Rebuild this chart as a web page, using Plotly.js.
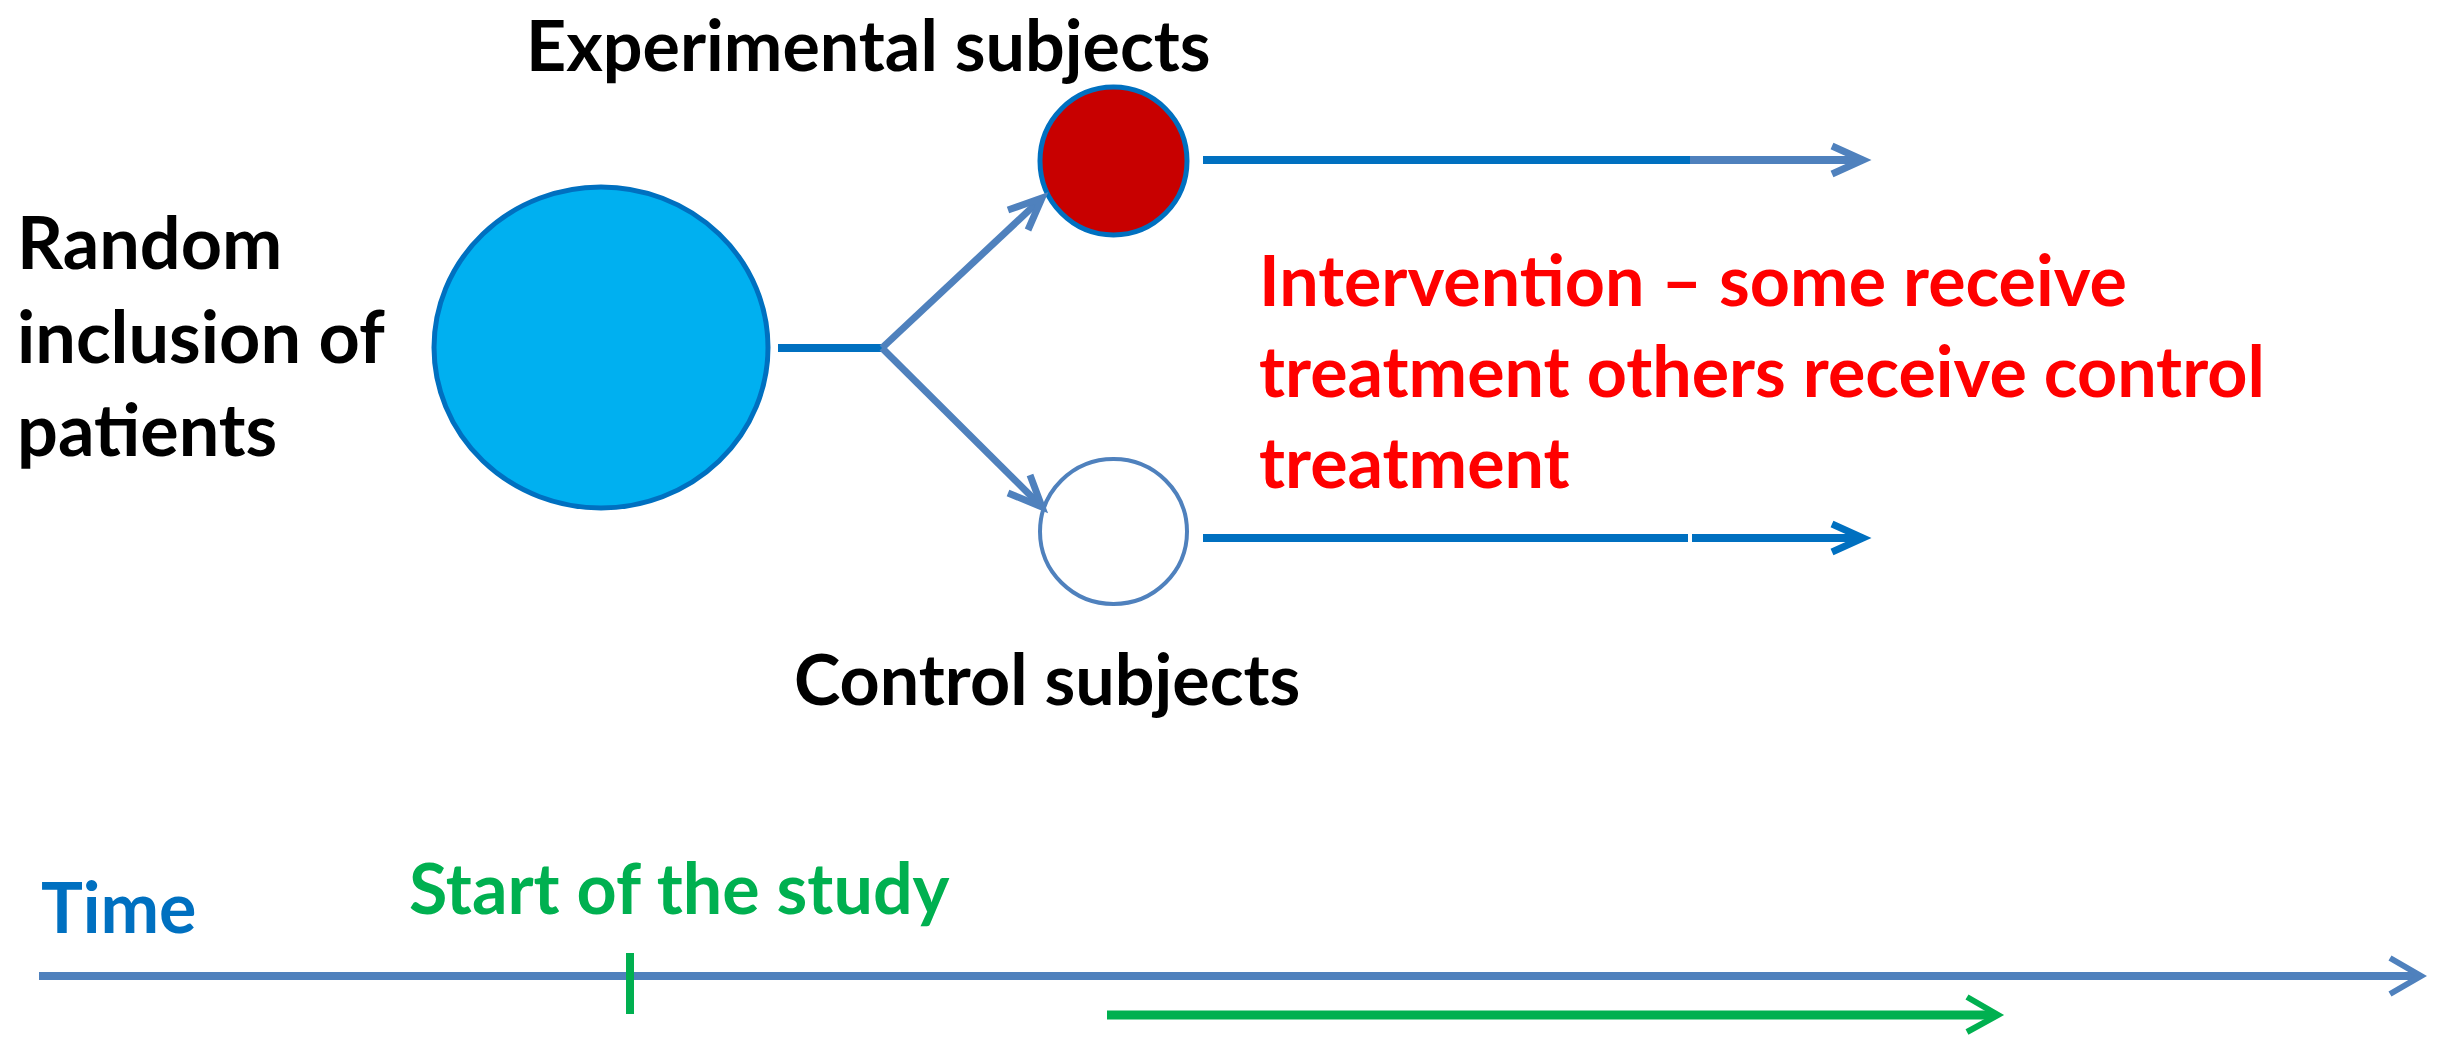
<!DOCTYPE html>
<html>
<head>
<meta charset="utf-8">
<script src="https://cdn.plot.ly/plotly-3.0.1.min.js"></script>
<style>html,body{margin:0;padding:0;background:#fff;}#chart{width:2440px;height:1038px;}</style>
</head>
<body>
<div id="chart"></div>
<script>
// ---- content ----
const groupLabels = ['Random<br>inclusion of<br>patients', 'Experimental subjects', 'Control subjects'];
const interventionLines = ['Intervention – some receive', 'treatment others receive control', 'treatment'];
const timelineLabels = ['Time', 'Start of the study'];

// ---- colours ----
const C_DARKBLUE = '#0070C0';
const C_MIDBLUE = '#4F81BD';
const C_CYAN = '#00B0F0';
const C_RED = '#C80000';
const C_TEXTRED = '#FF0000';
const C_GREEN = '#00B050';

const FONT = "Lato, 'Liberation Sans', sans-serif";
const FS = 70;

function seg(x0, y0, x1, y1, color, w) {
  return {type: 'line', xref: 'x', yref: 'y', x0: x0, y0: y0, x1: x1, y1: y1, line: {color: color, width: w}};
}
function chevron(tx, ty, ax, ay, bx, by, color, w) {
  return {type: 'path', xref: 'x', yref: 'y', path: `M${ax},${ay} L${tx},${ty} L${bx},${by}`, line: {color: color, width: w}};
}

const shapes = [
  // population
  {type: 'circle', xref: 'x', yref: 'y', x0: 434, x1: 768, y0: 187, y1: 508, fillcolor: C_CYAN, line: {color: C_DARKBLUE, width: 5}},
  // experimental group
  {type: 'circle', xref: 'x', yref: 'y', x0: 1040, x1: 1187, y0: 87, y1: 235, fillcolor: C_RED, line: {color: C_DARKBLUE, width: 5}},
  // control group
  {type: 'circle', xref: 'x', yref: 'y', x0: 1040, x1: 1187, y0: 459, y1: 604, fillcolor: '#FFFFFF', line: {color: C_MIDBLUE, width: 4}},
  // connector
  seg(778, 348, 884, 348, C_DARKBLUE, 8),
  // branches
  seg(882, 348, 1040, 200, C_MIDBLUE, 7),
  chevron(1042, 198, 1008, 210, 1028, 230, C_MIDBLUE, 7),
  seg(882, 348, 1040, 505, C_MIDBLUE, 7),
  chevron(1042, 507, 1008, 493, 1030, 475, C_MIDBLUE, 7),
  // follow-up arrows
  seg(1203, 160, 1690, 160, C_DARKBLUE, 8),
  seg(1690, 160, 1860, 160, C_MIDBLUE, 8),
  chevron(1863, 160, 1832, 146, 1832, 174, C_MIDBLUE, 7),
  seg(1203, 538, 1688, 538, C_DARKBLUE, 8),
  seg(1692, 538, 1860, 538, C_DARKBLUE, 8),
  chevron(1863, 538, 1832, 524, 1832, 552, C_DARKBLUE, 7),
  // timeline
  seg(39, 976, 2418, 976, C_MIDBLUE, 8),
  chevron(2421, 976, 2390, 958, 2390, 994, C_MIDBLUE, 6),
  seg(630, 953, 630, 1014, C_GREEN, 8),
  seg(1107, 1015, 1995, 1015, C_GREEN, 9),
  chevron(1998, 1015, 1967, 997, 1967, 1032, C_GREEN, 6)
];

function ann(text, x, y, xanchor, color, size) {
  return {text: text, x: x, y: y, xref: 'x', yref: 'y', xanchor: xanchor, yanchor: 'middle', showarrow: false, align: 'left',
          font: {family: FONT, size: size, color: color, weight: 'bold'}};
}

const annotations = [
  ann(groupLabels[0], 15, 334, 'left', '#000000', 72),
  ann(groupLabels[1], 868, 44, 'center', '#000000', FS),
  ann(groupLabels[2], 1047, 678, 'center', '#000000', FS),
  ann(interventionLines.join('<br>'), 1257, 370, 'left', C_TEXTRED, FS),
  ann(timelineLabels[0], 39, 906, 'left', C_DARKBLUE, FS),
  ann(timelineLabels[1], 407, 887, 'left', C_GREEN, FS)
];

const layout = {
  width: 2440, height: 1038,
  margin: {l: 0, r: 0, t: 0, b: 0},
  paper_bgcolor: '#FFFFFF', plot_bgcolor: '#FFFFFF',
  xaxis: {range: [0, 2440], visible: false, fixedrange: true},
  yaxis: {range: [1038, 0], visible: false, fixedrange: true},
  showlegend: false,
  shapes: shapes,
  annotations: annotations
};

Plotly.newPlot('chart', [{x: [], y: [], type: 'scatter', mode: 'markers', hoverinfo: 'skip'}], layout, {displayModeBar: false, staticPlot: true});
</script>
</body>
</html>
